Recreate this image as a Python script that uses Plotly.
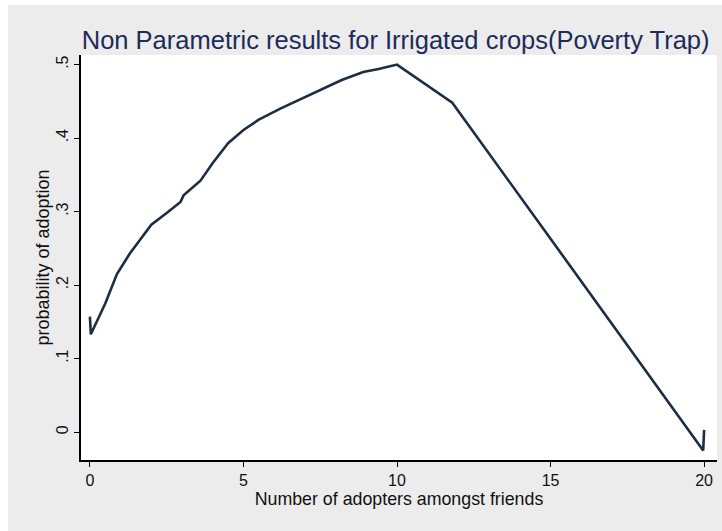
import plotly.graph_objects as go

# Data (lowess-type smooth)
adopters = [0.0, 0.03, 0.5, 0.88, 1.3, 2.0, 2.5, 2.95, 3.05, 3.6, 4.0, 4.5, 5.0, 5.5,
            6.2, 6.9, 7.5, 8.2, 8.9, 9.4, 10.0, 11.8, 15.0, 19.97, 20.0]
prob = [0.157, 0.133, 0.175, 0.215, 0.243, 0.282, 0.298, 0.313, 0.322, 0.342, 0.366,
        0.393, 0.411, 0.425, 0.440, 0.454, 0.466, 0.479, 0.490, 0.494, 0.500, 0.448,
        0.263, -0.025, 0.003]

x_ticks = [0, 5, 10, 15, 20]
y_ticks = [0, 0.1, 0.2, 0.3, 0.4, 0.5]
y_ticktext = ["0", ".1", ".2", ".3", ".4", ".5"]

title_text = "Non Parametric results for Irrigated crops(Poverty Trap)"
x_title = "Number of adopters amongst friends"
y_title = "probability of adoption"

FONT = "Liberation Sans, Arial, sans-serif"
BG = "#ececec"

fig = go.Figure()
fig.add_trace(go.Scatter(x=adopters, y=prob, mode="lines",
                         line=dict(color="#1d2d43", width=2.6),
                         showlegend=False, hoverinfo="skip"))

fig.update_layout(
    width=722, height=531,
    margin=dict(l=81, r=5, t=55, b=71),
    paper_bgcolor=BG, plot_bgcolor="white",
    font=dict(family=FONT, color="#111111", size=15),
    title=dict(text=title_text, x=0.548, xanchor="center", y=0.925, yanchor="middle",
               font=dict(family=FONT, size=25.5, color="#1c2b5a")),
    xaxis=dict(range=[-0.29, 20.42], tickvals=x_ticks, showgrid=False, zeroline=False,
               showline=True, linecolor="black", linewidth=1.5,
               ticks="outside", ticklen=5, tickcolor="black", tickwidth=1.2,
               tickfont=dict(size=16), title=dict(text=x_title, standoff=0, font=dict(size=17.8))),
    yaxis=dict(range=[-0.038, 0.513], tickvals=y_ticks, ticktext=y_ticktext, tickangle=-90,
               showgrid=False, zeroline=False,
               showline=True, linecolor="black", linewidth=1.5,
               ticks="outside", ticklen=5, tickcolor="black", tickwidth=1.2,
               tickfont=dict(size=16), title=dict(text=y_title, standoff=0, font=dict(size=18))),
    shapes=[
        dict(type="rect", xref="paper", yref="paper", x0=-0.13, x1=-0.1148, y0=-0.2, y1=1.2,
             fillcolor="white", line=dict(width=0), layer="above"),
        dict(type="rect", xref="paper", yref="paper", x0=-0.13, x1=1.02, y0=1.1235, y1=1.2,
             fillcolor="white", line=dict(width=0), layer="above"),
    ],
)

fig.write_html("out.html")
